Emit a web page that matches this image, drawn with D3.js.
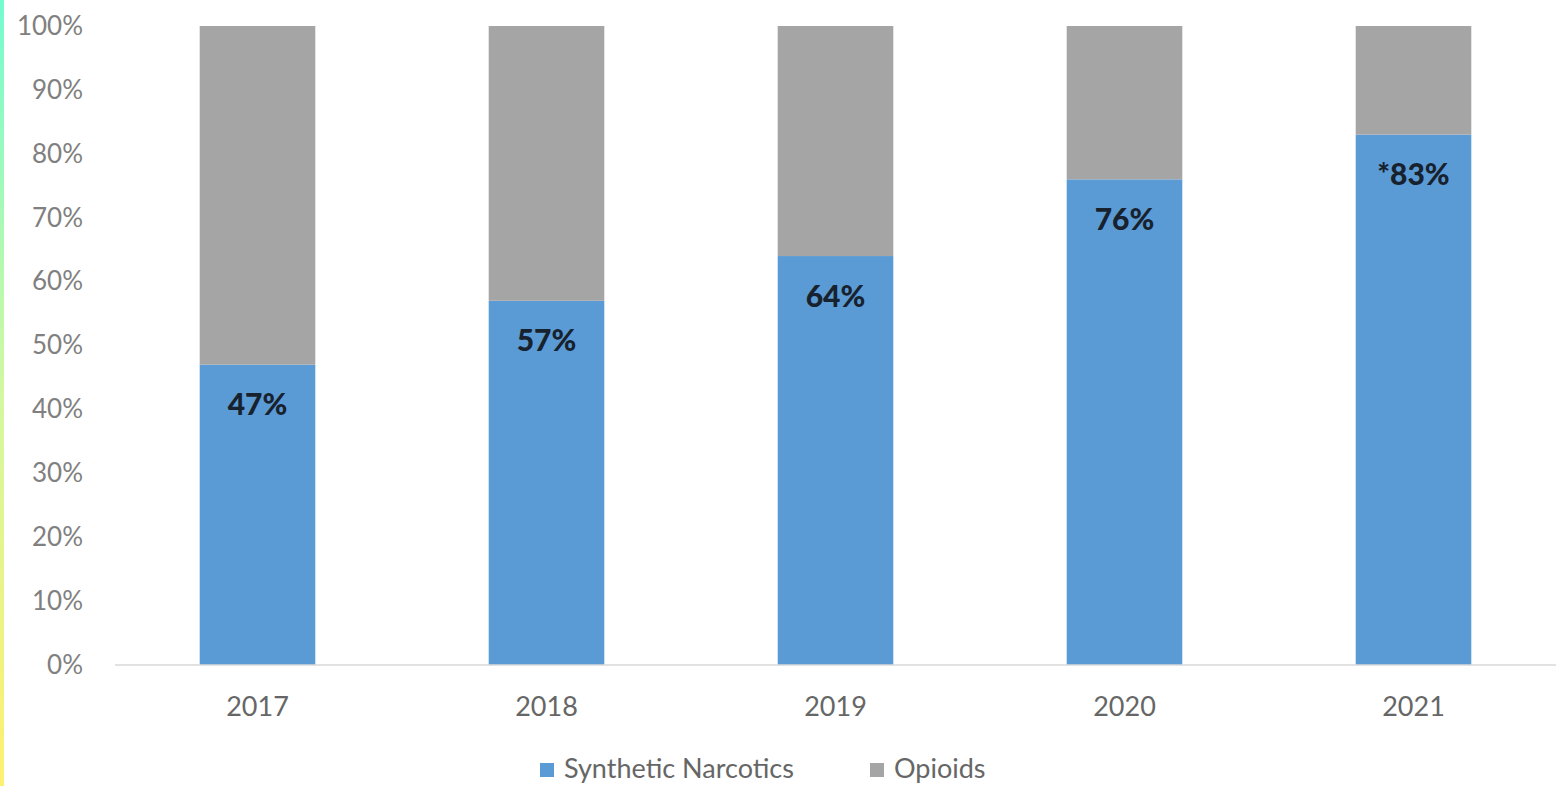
<!DOCTYPE html>
<html>
<head>
<meta charset="utf-8">
<script src="https://cdn.jsdelivr.net/npm/d3@7"></script>
<style>
  html, body { margin: 0; padding: 0; background: #ffffff; }
  svg { display: block; }
</style>
</head>
<body>
<svg id="chart" width="1556" height="786"></svg>
<script>
// Share of seizures by year
const years = ["2017", "2018", "2019", "2020", "2021"];
const syntheticNarcotics = [47, 57, 64, 76, 83];
const valueLabels = ["47%", "57%", "64%", "76%", "*83%"];
const yTicks = [0, 10, 20, 30, 40, 50, 60, 70, 80, 90, 100];
const seriesNames = ["Synthetic Narcotics", "Opioids"];

const W = 1556, H = 786;
const colors = { "Synthetic Narcotics": "#5b9bd5", "Opioids": "#a5a5a5" };
const font = "Lato, 'Open Sans', sans-serif";

const svg = d3.select("#chart");

// thin gradient strip on the left edge
const defs = svg.append("defs");
const grad = defs.append("linearGradient").attr("id", "edge").attr("x1", 0).attr("y1", 0).attr("x2", 0).attr("y2", 1);
grad.append("stop").attr("offset", "0%").attr("stop-color", "#74fbd0");
grad.append("stop").attr("offset", "50%").attr("stop-color", "#d2f8a0");
grad.append("stop").attr("offset", "100%").attr("stop-color", "#fff070");
svg.append("rect").attr("x", 0).attr("y", 0).attr("width", 4).attr("height", H).attr("fill", "url(#edge)");

const x = d3.scaleBand().domain(years).range([113, 1558]).paddingInner(0.6).paddingOuter(0.3);
const y = d3.scaleLinear().domain([0, 100]).range([665, 26]);

// stacked data: synthetic narcotics at the bottom, opioids the remainder
const rows = years.map((yr, i) => ({ year: yr, "Synthetic Narcotics": syntheticNarcotics[i], "Opioids": 100 - syntheticNarcotics[i] }));
const stack = d3.stack().keys(seriesNames)(rows);

svg.append("g").selectAll("g").data(stack).join("g")
  .attr("fill", d => colors[d.key])
  .selectAll("rect").data(d => d).join("rect")
  .attr("x", d => x(d.data.year))
  .attr("width", x.bandwidth())
  .attr("y", d => y(d[1]))
  .attr("height", d => y(d[0]) - y(d[1]));

// y axis labels (no axis line)
const yAxis = svg.append("g").attr("transform", "translate(83,0)")
  .call(d3.axisLeft(y).tickValues(yTicks).tickFormat(d => d + "%").tickSize(0).tickPadding(0));
yAxis.select(".domain").remove();
yAxis.selectAll("text").attr("font-family", font).attr("font-size", 26).attr("fill", "#808080");

// x axis baseline and year labels
const xAxis = svg.append("g").attr("transform", "translate(0,665)")
  .call(d3.axisBottom(x).tickSize(0).tickPadding(32));
xAxis.select(".domain").attr("stroke", "#d9d9d9").attr("stroke-width", 1.5).attr("d", "M115,0H1556");
xAxis.selectAll("text").attr("font-family", font).attr("font-size", 27).attr("fill", "#666666");

// value labels inside the blue segments
svg.append("g").selectAll("text").data(years).join("text")
  .attr("x", d => x(d) + x.bandwidth() / 2)
  .attr("y", (d, i) => y(syntheticNarcotics[i]) + 40)
  .attr("dy", "0.35em")
  .attr("text-anchor", "middle")
  .attr("font-family", font).attr("font-weight", 900).attr("font-size", 30)
  .attr("fill", "#18222e")
  .text((d, i) => valueLabels[i]);

// legend
const legendItems = [{ name: "Synthetic Narcotics", x: 540 }, { name: "Opioids", x: 870 }];
const lg = svg.append("g").selectAll("g").data(legendItems).join("g")
  .attr("transform", d => `translate(${d.x},769)`);
lg.append("rect").attr("x", 0).attr("y", -6).attr("width", 14).attr("height", 14).attr("fill", d => colors[d.name]);
lg.append("text").attr("x", 24).attr("y", 0).attr("dy", "0.35em")
  .attr("font-family", font).attr("font-size", 27).attr("fill", "#666666")
  .text(d => d.name);
</script>
</body>
</html>
